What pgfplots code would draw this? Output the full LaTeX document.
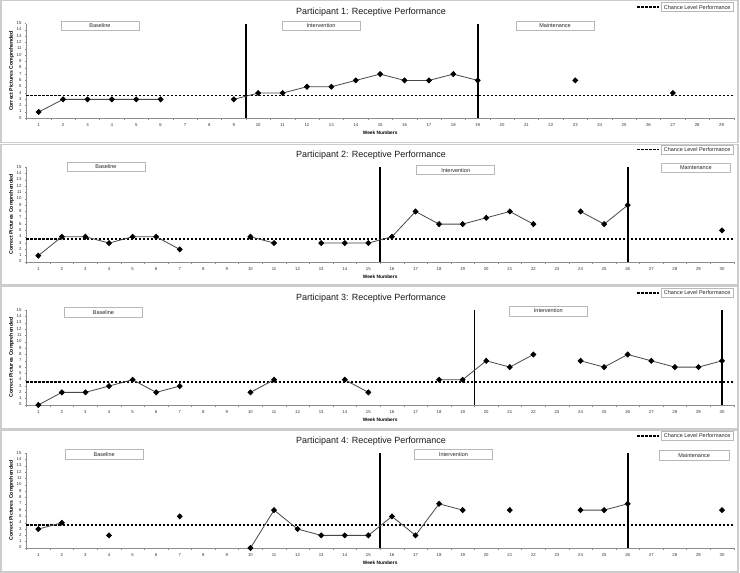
\documentclass[border=0pt]{standalone}
\usepackage{fontspec}
\setmainfont{Liberation Sans}
\usepackage{pgfplots}
\pgfplotsset{compat=1.18}

\definecolor{framec}{gray}{0.8}
\definecolor{boxc}{gray}{0.72}
\definecolor{axc}{gray}{0.55}
\definecolor{linec}{gray}{0.28}

\tikzset{
 data/.style={linec, line width=0.8pt, mark=diamond*, mark size=2.5pt, mark options={fill=black, draw=black, solid, xscale=1.3}},
 chance/.style={black, line width=1.7pt, dash pattern=on 2.8pt off 1.2pt},
 phase/.style={black, line width=1.9pt},
}
\pgfplotsset{
 panel/.style={
  scale only axis, width=707.3pt, height=94.7pt,
  xmin=0.5, ymin=0, ymax=15,
  ytick={0,...,15},
  axis x line*=bottom, axis y line*=left,
  axis line style={-, axc, line width=0.5pt},
  tick align=outside,
  major tick length=1.5pt, minor tick length=2.2pt,
  major tick style={axc, line width=0.4pt},
  minor tick style={axc, line width=0.4pt},
  major x tick style={draw=none},
  tick label style={font=\fontsize{4.3}{5}\selectfont, text=black!80},
  typeset ticklabels with strut,
  /pgf/number format/assume math mode=true,
  clip=false, unbounded coords=jump,
 },
}

\newcommand{\phasebox}[5]{%
  \draw[boxc, line width=0.5pt, fill=white] (#1,{573-#2}) rectangle (#3,{573-#4});
  \node[font=\fontsize{5.5}{6}\selectfont, text=black!85, inner sep=0pt] at ({(#1+#3)/2},{573-(#2+#4)/2}) {#5};}
\newcommand{\legendat}[1]{%
  \draw[chance] (637,{573-#1-4.5}) -- (658.5,{573-#1-4.5});
  \draw[boxc, line width=0.5pt, fill=white] (661,{573-#1}) rectangle (733.3,{573-#1-9.2});
  \node[font=\fontsize{5.5}{6}\selectfont, text=black!85, inner sep=0pt] at (697.2,{573-#1-4.6}) {Chance Level Performance};}
\newcommand{\paneltitle}[2]{%
  \node[font=\fontsize{9}{10}\selectfont, text=black!90, inner sep=0pt] at (371,{573-#1}) {#2};}
\newcommand{\axlabels}{%
  \node[rotate=90, font=\bfseries\fontsize{5.2}{6}\selectfont, inner sep=0pt] at (axis description cs:-0.0212,0.5) {Correct Pictures Comprehended};
  \node[font=\bfseries\fontsize{4.8}{6}\selectfont, inner sep=0pt] at (axis description cs:0.5,-0.155) {Week Numbers};}

\begin{document}
\begin{tikzpicture}[x=1pt,y=1pt]
\path[use as bounding box] (0,0) rectangle (740,573);
% panel frames
\draw[framec, line width=1.5pt] (0.75,{573-0.75}) rectangle (737.8,{573-142.75});
\draw[framec, line width=1.5pt] (0.75,{573-144.5}) rectangle (737.8,{573-285.25});
\draw[framec, line width=1.5pt] (0.75,{573-286.75}) rectangle (737.8,{573-428.5});
\draw[framec, line width=1.5pt] (0.75,{573-430.25}) rectangle (737.8,{573-572.25});

% ---------------- Participant 1
\begin{axis}[panel, at={(26.5pt,454.7pt)}, anchor=south west, xmax=29.5,
  xtick={1,...,29}, minor xtick={0.5,1.5,...,29.5}]
\addplot[chance] coordinates {(0.5,3.6) (29.5,3.6)};
\addplot[phase] coordinates {(9.5,0) (9.5,15)};
\addplot[phase] coordinates {(19,0) (19,15)};
\addplot[data] coordinates {(1,1)(2,3)(3,3)(4,3)(5,3)(6,3)(7,nan)(9,3)(10,4)(11,4)(12,5)(13,5)(14,6)(15,7)(16,6)(17,6)(18,7)(19,6)(20,nan)(23,6)(24,nan)(27,4)};
\axlabels
\end{axis}
\paneltitle{12}{Participant 1: Receptive Performance}
\legendat{2.5}
\phasebox{61}{21}{139}{30.5}{Baseline}
\phasebox{282}{21}{360}{30.5}{Intervention}
\phasebox{516}{21}{594}{30.5}{Maintenance}

% ---------------- Participant 2
\begin{axis}[panel, at={(26.5pt,311pt)}, anchor=south west, xmax=30.5,
  xtick={1,...,30}, minor xtick={0.5,1.5,...,30.5}]
\addplot[chance] coordinates {(0.5,3.6) (30.5,3.6)};
\addplot[phase] coordinates {(15.5,0) (15.5,15)};
\addplot[phase] coordinates {(26,0) (26,15)};
\addplot[data] coordinates {(1,1)(2,4)(3,4)(4,3)(5,4)(6,4)(7,2)(8,nan)(10,4)(11,3)(12,nan)(13,3)(14,3)(15,3)(16,4)(17,8)(18,6)(19,6)(20,7)(21,8)(22,6)(23,nan)(24,8)(25,6)(26,9)(27,nan)(30,5)};
\axlabels
\end{axis}
\paneltitle{155}{Participant 2: Receptive Performance}
\legendat{145}
\phasebox{67}{162}{145}{171.7}{Baseline}
\phasebox{416.7}{165.7}{494.7}{174.7}{Intervention}
\phasebox{661.7}{163}{730}{172.7}{Maintenance}

% ---------------- Participant 3
\begin{axis}[panel, at={(26.5pt,168pt)}, anchor=south west, xmax=30.5,
  xtick={1,...,30}, minor xtick={0.5,1.5,...,30.5}]
\addplot[chance] coordinates {(0.5,3.6) (30.5,3.6)};
\addplot[phase] coordinates {(19.5,0) (19.5,15)};
\addplot[phase] coordinates {(30,0) (30,15)};
\addplot[data] coordinates {(1,0)(2,2)(3,2)(4,3)(5,4)(6,2)(7,3)(8,nan)(10,2)(11,4)(12,nan)(14,4)(15,2)(16,nan)(18,4)(19,4)(20,7)(21,6)(22,8)(23,nan)(24,7)(25,6)(26,8)(27,7)(28,6)(29,6)(30,7)};
\axlabels
\end{axis}
\paneltitle{298.3}{Participant 3: Receptive Performance}
\legendat{288.3}
\phasebox{64.3}{307.7}{142.7}{317.3}{Baseline}
\phasebox{509.3}{306}{587.3}{316}{Intervention}

% ---------------- Participant 4
\begin{axis}[panel, at={(26.5pt,25pt)}, anchor=south west, xmax=30.5,
  xtick={1,...,30}, minor xtick={0.5,1.5,...,30.5}]
\addplot[chance] coordinates {(0.5,3.6) (30.5,3.6)};
\addplot[phase] coordinates {(15.5,0) (15.5,15)};
\addplot[phase] coordinates {(26,0) (26,15)};
\addplot[data] coordinates {(1,3)(2,4)(3,nan)(4,2)(5,nan)(7,5)(8,nan)(10,0)(11,6)(12,3)(13,2)(14,2)(15,2)(16,5)(17,2)(18,7)(19,6)(20,nan)(21,6)(22,nan)(24,6)(25,6)(26,7)(27,nan)(30,6)};
\axlabels
\end{axis}
\paneltitle{441.3}{Participant 4: Receptive Performance}
\legendat{431.3}
\phasebox{65}{449.7}{143.3}{459.7}{Baseline}
\phasebox{414.3}{449.7}{492.7}{459.7}{Intervention}
\phasebox{659.3}{450.7}{729}{460.3}{Maintenance}
\end{tikzpicture}
\end{document}
